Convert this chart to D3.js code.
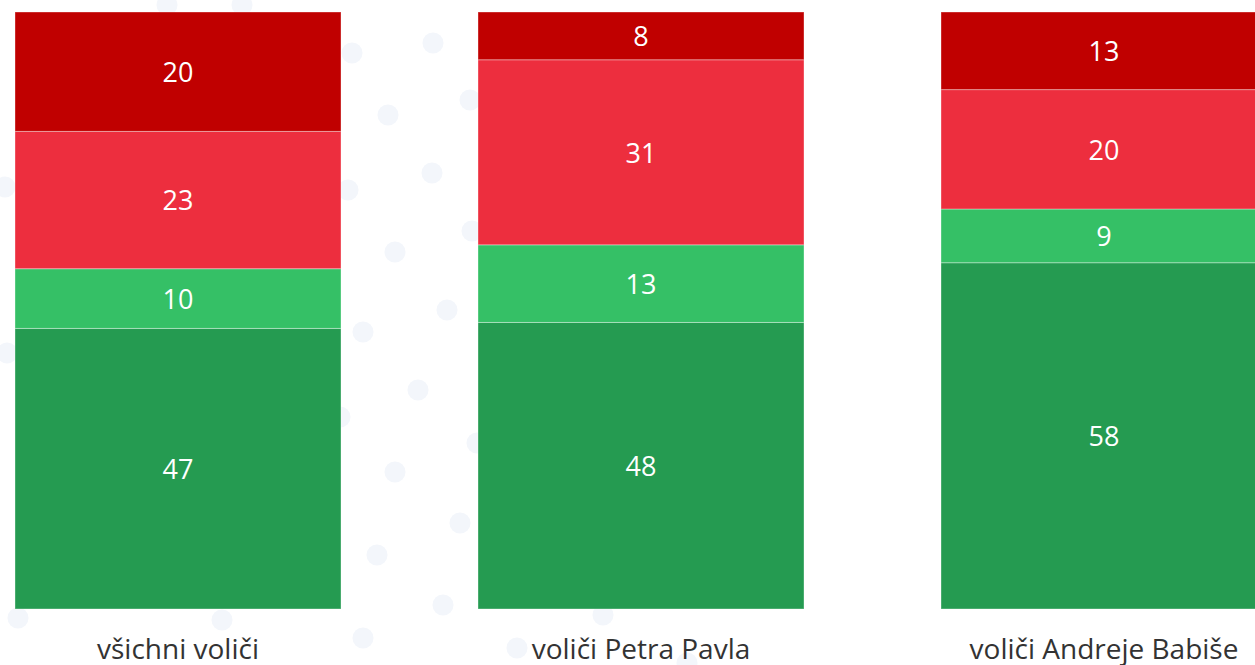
<!DOCTYPE html>
<html>
<head>
<meta charset="utf-8">
<script src="https://cdn.jsdelivr.net/npm/d3@7"></script>
<style>
  html, body { margin: 0; padding: 0; background: #ffffff; overflow: hidden; }
  svg { display: block; }
</style>
</head>
<body>
<svg id="chart" width="1255" height="665"></svg>
<script>
// ---- data ----
const categories = ["všichni voliči", "voliči Petra Pavla", "voliči Andreje Babiše"];
const seriesNames = ["s1", "s2", "s3", "s4"]; // bottom to top
const s1 = [47, 48, 58]; // dark green
const s2 = [10, 13, 9];  // light green
const s3 = [23, 31, 20]; // red
const s4 = [20, 8, 13];  // dark red
const seriesColors = ["#259B51", "#35C066", "#ED2E3E", "#C00000"];

// decorative background dots (approximate)
const dotsX = [433, 352, 388, 470, 432, 348, 5, 395, 447, 363, 167, 242, 7, 418, 340, 395, 460, 377, 443, 363, 18, 222, 477, 603, 517, 687, 472];
const dotsY = [43, 53, 115, 100, 173, 190, 187, 252, 310, 332, 5, 5, 353, 390, 417, 472, 523, 555, 605, 638, 618, 620, 443, 615, 648, 663, 231];

const W = 1255, H = 665;
const svg = d3.select("#chart");

// background dots
svg.append("g").selectAll("circle")
  .data(dotsX.map((x, i) => [x, dotsY[i]]))
  .join("circle")
  .attr("cx", d => d[0]).attr("cy", d => d[1]).attr("r", 10.5)
  .attr("fill", "#f3f6fb");

const table = categories.map((c, i) => ({cat: c, s1: s1[i], s2: s2[i], s3: s3[i], s4: s4[i]}));
const stacked = d3.stack().keys(seriesNames)(table);

const x = d3.scaleBand().domain(categories).range([15, 1267]).paddingInner(137 / 463).paddingOuter(0);
const y = d3.scaleLinear().domain([0, 100]).range([609, 12]);
const color = d3.scaleOrdinal().domain(seriesNames).range(seriesColors);

const layers = svg.append("g").selectAll("g")
  .data(stacked).join("g")
  .attr("fill", d => color(d.key));

layers.selectAll("rect")
  .data(d => d)
  .join("rect")
  .attr("x", d => x(d.data.cat))
  .attr("y", d => y(d[1]))
  .attr("width", x.bandwidth())
  .attr("height", d => y(d[0]) - y(d[1]))
  .attr("stroke", "rgba(255,255,255,0.35)")
  .attr("stroke-width", 1);

// value labels
const font = "'Open Sans', 'Noto Sans', sans-serif";
const labels = svg.append("g");
stacked.forEach(layer => {
  layer.forEach(d => {
    labels.append("text")
      .attr("x", x(d.data.cat) + x.bandwidth() / 2)
      .attr("y", (y(d[0]) + y(d[1])) / 2)
      .attr("dy", "0.38em")
      .attr("text-anchor", "middle")
      .attr("font-family", font)
      .attr("font-size", 27)
      .attr("fill", "#ffffff")
      .text(d[1] - d[0]);
  });
});

// category axis labels
const xAxis = d3.axisBottom(x).tickSize(0).tickPadding(0);
const ax = svg.append("g").attr("transform", "translate(0,609)").call(xAxis);
ax.select(".domain").remove();
ax.selectAll("text")
  .attr("font-family", font)
  .attr("font-size", 28)
  .attr("fill", "#333333")
  .attr("dy", 0)
  .attr("y", 50);
</script>
</body>
</html>
